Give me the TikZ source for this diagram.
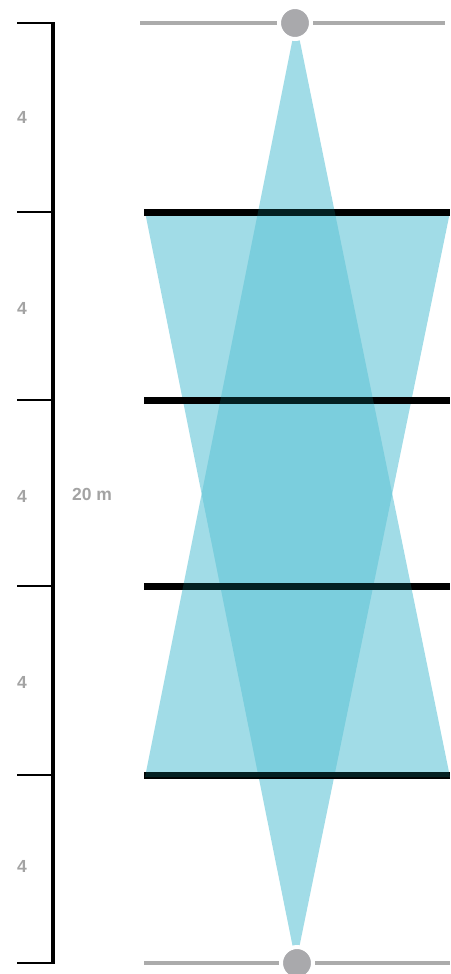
\documentclass[tikz,border=0pt]{standalone}
\usepackage{fontspec}
\setmainfont{Liberation Sans}
\definecolor{lightcyan}{HTML}{A1DCE7}
\definecolor{deepcyan}{HTML}{62C5D7}
\definecolor{darkteal}{HTML}{032022}
\definecolor{lampgray}{HTML}{A9A9AC}
\definecolor{railgray}{HTML}{ABABAB}
\definecolor{txtgray}{HTML}{A3A3A3}

\begin{document}
\begin{tikzpicture}[x=1pt, y=-1pt,
  dimlabel/.style={text=txtgray, font=\fontsize{17.5}{20}\selectfont\bfseries, inner sep=0pt},
  bar/.style={line width=7pt},
  rail/.style={railgray, line width=3.7pt},
  lamp/.style={fill=lampgray, draw=white, line width=4pt}]

\useasboundingbox (0,0) rectangle (450,974);

% Beam from the lower lamp (sits under the bars)
\fill[lightcyan] (145,212) -- (450,212) -- (296,963) -- cycle;

% Beam from the upper lamp
\fill[deepcyan, opacity=0.6] (296,22) -- (450,777) -- (145,777) -- cycle;

% Bars
\foreach \y in {212,400,586,775}
  \draw[bar, black] (144,\y) -- (450,\y);

% Bars seen through the upper beam
\begin{scope}
  \clip (296,22) -- (450,777) -- (145,777) -- cycle;
  \foreach \y in {212,400,586,775}
    \draw[bar, darkteal] (144,\y) -- (450,\y);
\end{scope}

% Rails and lamps
\draw[rail] (140,23) -- (445,23);
\draw[lamp] (295,23) circle (16pt);
\draw[rail] (144,963) -- (450,963);
\draw[lamp] (297,963) circle (16pt);

% Dimension scale
\draw[line width=3.3pt] (53,23) -- (53,963);
\foreach \y in {23,212,400,586,775,963}
  \draw[line width=1.2pt] (17,\y) -- (54.6,\y);

% Labels
\foreach \y [count=\i] in {117,308,496,682,866}
  \node[dimlabel] (seg\i) at (22,\y) {4};
\node[dimlabel] (total) at (92,494) {20 m};

\end{tikzpicture}
\end{document}
